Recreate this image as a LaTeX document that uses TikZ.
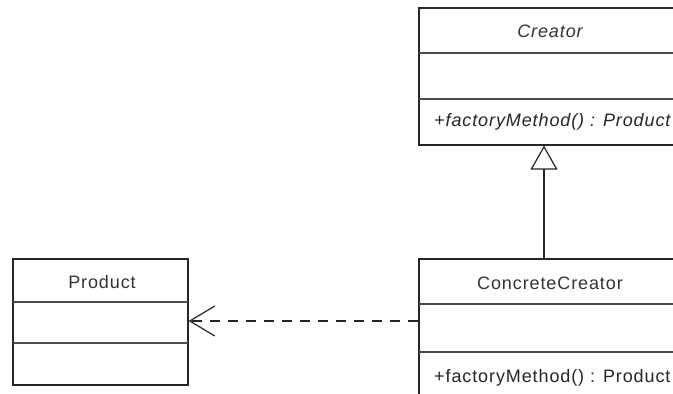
\documentclass[tikz,border=0pt]{standalone}
\usepackage{fontspec}
\setmainfont{Liberation Sans}[LetterSpace=5]
\usetikzlibrary{arrows.meta}
\begin{document}
\begin{tikzpicture}[x=1pt,y=-1pt,
  classbox/.style={draw=black!85, line width=1.2pt, fill=white, inner sep=0pt},
  divider/.style={draw=black!70, line width=1.2pt},
  title/.style={font=\fontsize{18}{20}\selectfont, text=black!80, inner sep=0pt},
  member/.style={font=\fontsize{18}{20}\selectfont, text=black!85, inner sep=0pt, anchor=west},
  inherit/.style={draw=black!85, line width=1.2pt, -{Triangle[open, length=24pt, width=27pt, line width=1.2pt]}},
  dep/.style={draw=black!85, line width=1.2pt, dash pattern=on 10pt off 8pt, -{Straight Barb[length=25pt, width=30pt, line width=1.2pt]}}]
\path[use as bounding box, clip] (0,0) rectangle (673,394);
\fill[white] (0,0) rectangle (673,394);
% Creator
\node[classbox, minimum width=262pt, minimum height=137pt] (creator) at (550,76.5) {};
\draw[divider] (419,53) -- (681,53);
\draw[divider] (419,99) -- (681,99);
\node[title, font=\fontsize{18}{20}\selectfont\itshape] (creatorT) at (550,31) {Creator};
\node[member, font=\fontsize{18}{20}\selectfont\itshape] (creatorM) at (434,122) {+factoryMethod() : Product};
% ConcreteCreator
\node[classbox, minimum width=262pt, minimum height=160pt] (concrete) at (550,339) {};
\draw[divider] (419,304) -- (681,304);
\draw[divider] (419,352) -- (681,352);
\node[title] (concreteT) at (550,283) {ConcreteCreator};
\node[member] (concreteM) at (434,378) {+factoryMethod() : Product};
% Product
\node[classbox, minimum width=175pt, minimum height=126pt] (product) at (100.5,322) {};
\draw[divider] (13,302) -- (188,302);
\draw[divider] (13,343) -- (188,343);
\node[title] (productT) at (102,282) {Product};
% connectors
\coordinate (tx) at (544,0);
\coordinate (dy) at (0,321);
\draw[inherit] (concrete.north -| tx) -- (creator.south -| tx);
\draw[dep] (concrete.west |- dy) -- (product.east |- dy);
\end{tikzpicture}
\end{document}
